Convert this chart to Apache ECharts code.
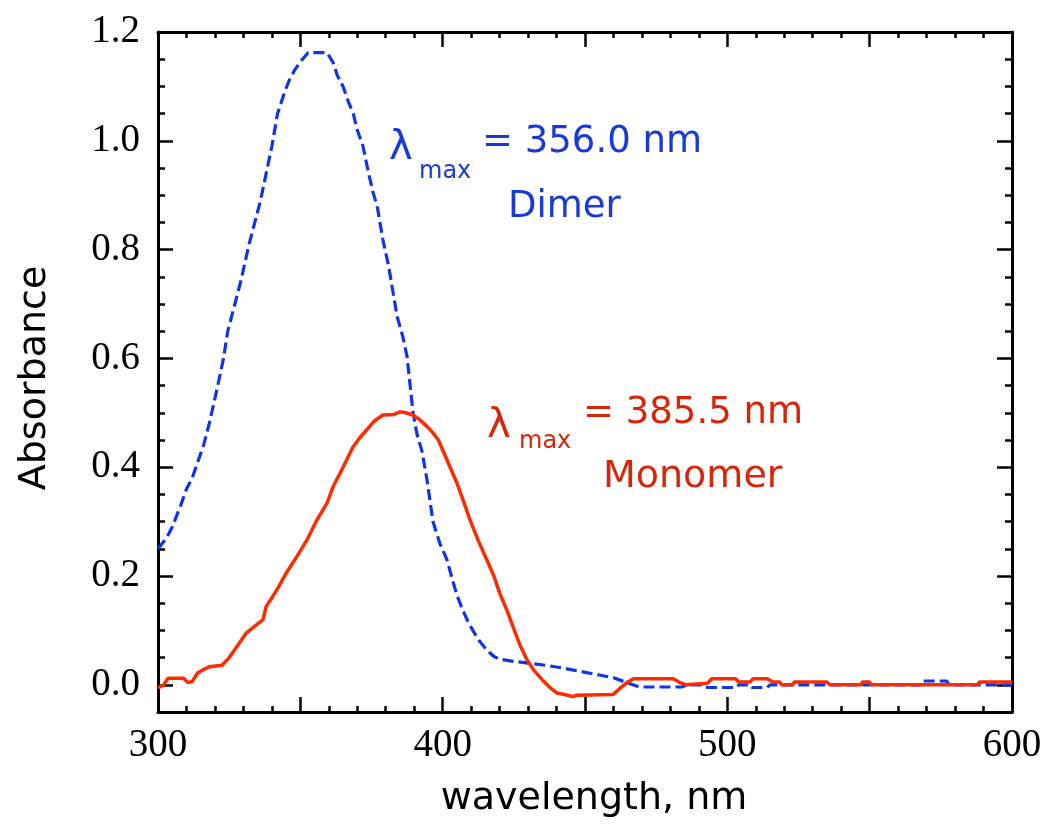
<!DOCTYPE html>
<html>
<head>
<meta charset="utf-8">
<script src="https://cdn.jsdelivr.net/npm/echarts@6/dist/echarts.min.js"></script>
<style>
html,body{margin:0;padding:0;background:#fff;}
#chart{width:1050px;height:825px;}
</style>
</head>
<body>
<div id="chart"></div>
<script>
// Dimer spectrum (blue, dashed)
const dimerWavelength = [300,303,305,308,310,312,314,316,318,321,323,324.5,327,329,332,334,336,338,340,342,344.5,346,348,350,352.7,359.4,361.6,363,365,367,368.6,370,372,374,375.6,377,379,381,384,386,387.5,389.6,391,392.7,394.4,396.6,399,401.5,403.6,405,407,409,410.6,413,415.5,418,420,425,430,436,442,446,451,455,460,464.7,469,484,486,491,492,503,504,508,508.6,514,515,568,568.5,577,578,600];
const dimerAbsorbance = [0.25,0.27,0.29,0.33,0.36,0.38,0.41,0.44,0.48,0.55,0.60,0.65,0.70,0.74,0.81,0.85,0.89,0.94,0.99,1.05,1.09,1.11,1.13,1.145,1.162,1.162,1.143,1.12,1.10,1.07,1.05,1.02,0.99,0.94,0.904,0.88,0.818,0.77,0.677,0.64,0.603,0.50,0.46,0.43,0.38,0.30,0.26,0.23,0.19,0.165,0.138,0.115,0.10,0.08,0.064,0.052,0.047,0.043,0.040,0.036,0.031,0.027,0.022,0.018,0.013,0.004,-0.004,-0.004,0.0,0.0,-0.005,-0.005,0.0,0.0,-0.005,-0.005,0.0,0.0,0.007,0.007,0.0,0.0];

// Monomer spectrum (red, solid)
const monomerWavelength = [300,302,303.5,309,310.5,312,314,316,318,322.5,325,327,329,331,334,336.9,338,340,341.8,345,348.8,352.3,355.8,359.4,361.5,365,368.5,371,373.4,376,379,383,385,387,389.6,392,394.5,396.6,398.5,400,402.6,405,407.5,409.6,412.5,415.5,418,420,422.5,424.7,427,429.6,432,435,437.5,440,443,445.8,447,459.8,462,464.7,467,481,483,485.6,493,494.5,503,504,508,509,514,516,518.5,519,523,523.5,535,536,547,547.5,550,550.5,588,588.5,600];
const monomerAbsorbance = [-0.006,0.0,0.012,0.012,0.004,0.006,0.022,0.028,0.033,0.036,0.05,0.065,0.08,0.095,0.108,0.12,0.144,0.16,0.175,0.205,0.236,0.266,0.303,0.334,0.364,0.40,0.437,0.455,0.469,0.485,0.496,0.497,0.502,0.500,0.496,0.487,0.475,0.463,0.45,0.432,0.40,0.371,0.335,0.303,0.265,0.23,0.20,0.169,0.138,0.107,0.075,0.046,0.027,0.009,-0.004,-0.015,-0.018,-0.022,-0.019,-0.018,-0.008,0.004,0.011,0.011,0.005,0.0,0.003,0.011,0.011,0.005,0.005,0.011,0.011,0.005,0.005,0.0,0.0,0.005,0.005,0.0,0.0,0.005,0.005,0.0,0.0,0.005,0.005];

// Tick labels
const xTickLabels = [300,400,500,600];
const yTickLabels = [0,0.2,0.4,0.6,0.8,1.0,1.2];

const dimerData = dimerWavelength.map((w,i)=>[w,dimerAbsorbance[i]]);
const monomerData = monomerWavelength.map((w,i)=>[w,monomerAbsorbance[i]]);

const BLUE_LINE = '#1234e6';
const RED_LINE = '#ff2a00';
const BLUE_TEXT = '#1a3ad8';
const RED_TEXT = '#d8250a';
const SANS = '"DejaVu Sans", sans-serif';
const SERIF = '"Liberation Serif", "Times New Roman", serif';

const X_MIN = 300, X_MAX = 600, Y_MIN = -0.05, Y_MAX = 1.2;

function xAxisDef(pos, withLabels){
  return {
    type:'value', gridIndex:0, position:pos, min:X_MIN, max:X_MAX, interval:50,
    axisLine:{show:true, onZero:false, lineStyle:{color:'#000', width:3}},
    axisTick:{show:true, inside:true, length:15, lineStyle:{color:'#000', width:2.5}},
    minorTick:{show:true, splitNumber:5, length:6, lineStyle:{color:'#000', width:2.5}},
    axisLabel: withLabels ? {show:true, customValues:xTickLabels, color:'#000', fontFamily:SERIF, fontSize:39, margin:14} : {show:false},
    splitLine:{show:false}, minorSplitLine:{show:false},
    name: withLabels ? 'wavelength, nm' : '',
    nameLocation:'middle', nameGap:68,
    nameTextStyle:{fontFamily:SANS, fontSize:38, color:'#000', padding:[0,0,0,18]}
  };
}
function yMajor(pos, withLabels){
  return {
    type:'value', gridIndex:0, position:pos, min:Y_MIN, max:Y_MAX,
    axisLine:{show:true, onZero:false, lineStyle:{color:'#000', width:3}},
    axisTick:{show:true, inside:true, length:15, customValues:yTickLabels, lineStyle:{color:'#000', width:2.5}},
    axisLabel: withLabels ? {show:true, customValues:yTickLabels, formatter:(v)=>Number(v).toFixed(1), color:'#000', fontFamily:SERIF, fontSize:39, margin:18} : {show:false},
    splitLine:{show:false},
    name: withLabels ? 'Absorbance' : '',
    nameLocation:'middle', nameGap:104, nameRotate:90,
    nameTextStyle:{fontFamily:SANS, fontSize:38, color:'#000', padding:[0,12,0,0]}
  };
}
function yMinor(pos){
  return {
    type:'value', gridIndex:0, position:pos, min:Y_MIN, max:Y_MAX, interval:0.05,
    axisLine:{show:false, onZero:false},
    axisTick:{show:true, inside:true, length:7, lineStyle:{color:'#000', width:2.5}},
    axisLabel:{show:false}, splitLine:{show:false}
  };
}

const chart = echarts.init(document.getElementById('chart'), null, {renderer:'canvas'});
chart.setOption({
  animation:false,
  backgroundColor:'#fff',
  grid:{left:158, right:38, top:32, bottom:113, containLabel:false},
  xAxis:[xAxisDef('bottom', true), xAxisDef('top', false)],
  yAxis:[yMajor('left', true), yMinor('left'), yMajor('right', false), yMinor('right')],
  series:[
    {name:'Dimer', type:'line', xAxisIndex:0, yAxisIndex:0, data:dimerData, showSymbol:false,
     lineStyle:{color:BLUE_LINE, width:3.2, type:[11,5]}, z:2},
    {name:'Monomer', type:'line', xAxisIndex:0, yAxisIndex:0, data:monomerData, showSymbol:false,
     lineStyle:{color:RED_LINE, width:3.5}, z:3}
  ],
  graphic:[
    {type:'text', left:389, top:129, style:{text:'λ', fontFamily:SANS, fontSize:40, fill:BLUE_TEXT}},
    {type:'text', left:419, top:160, style:{text:'max', fontFamily:SANS, fontSize:24, fill:BLUE_TEXT}},
    {type:'text', left:482, top:124, style:{text:'= 356.0 nm', fontFamily:SANS, fontSize:37, fill:BLUE_TEXT}},
    {type:'text', left:508, top:189, style:{text:'Dimer', fontFamily:SANS, fontSize:37, fill:BLUE_TEXT}},
    {type:'text', left:487, top:407, style:{text:'λ', fontFamily:SANS, fontSize:40, fill:RED_TEXT}},
    {type:'text', left:519, top:430, style:{text:'max', fontFamily:SANS, fontSize:24, fill:RED_TEXT}},
    {type:'text', left:583, top:395, style:{text:'= 385.5 nm', fontFamily:SANS, fontSize:37, fill:RED_TEXT}},
    {type:'text', left:603, top:458, style:{text:'Monomer', fontFamily:SANS, fontSize:38, fill:RED_TEXT}}
  ]
});
</script>
</body>
</html>
